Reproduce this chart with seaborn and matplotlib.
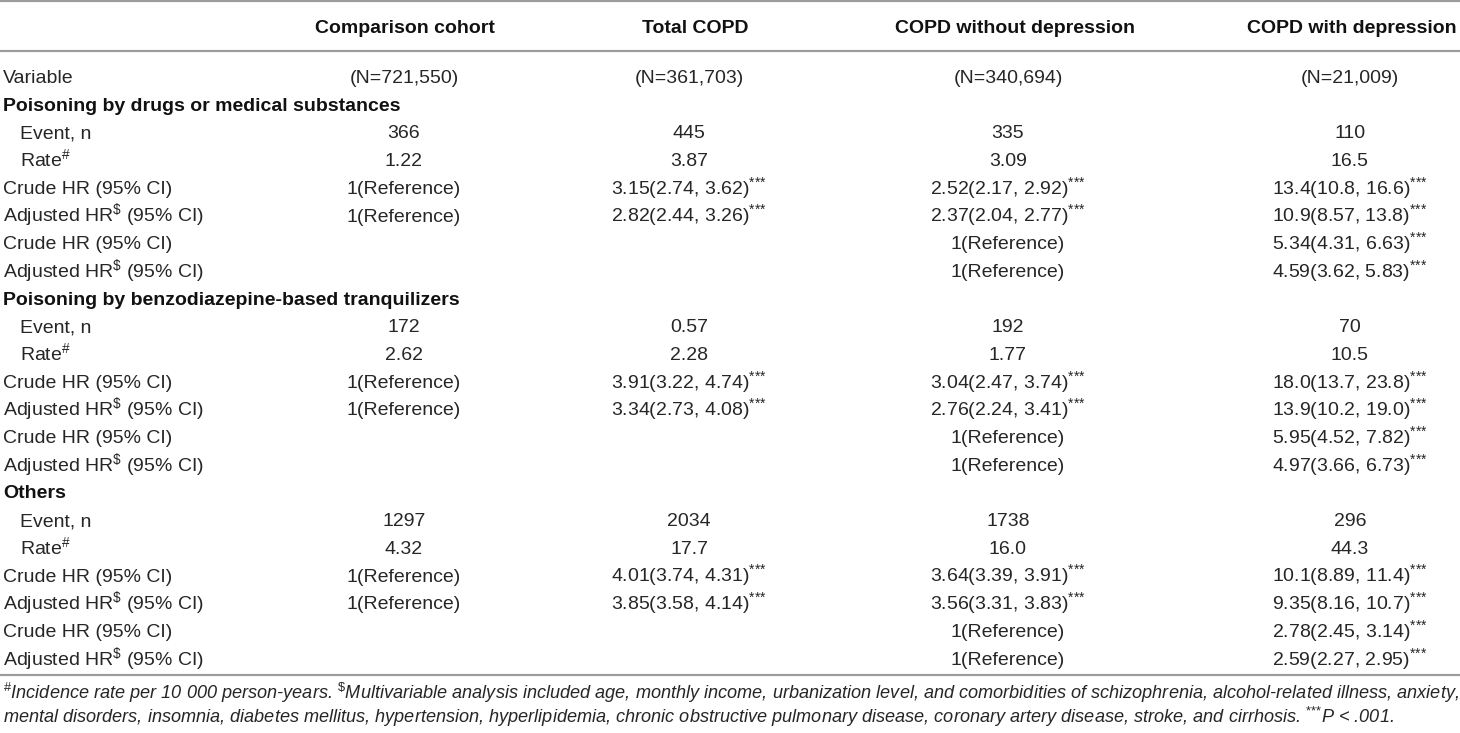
import matplotlib
matplotlib.use("Agg")
import matplotlib.pyplot as plt
import seaborn as sns

# ---------------- data ----------------
columns = ["Comparison cohort", "Total COPD", "COPD without depression", "COPD with depression"]
n_values = ["(N=721,550)", "(N=361,703)", "(N=340,694)", "(N=21,009)"]

sections = ["Poisoning by drugs or medical substances",
            "Poisoning by benzodiazepine-based tranquilizers",
            "Others"]

row_labels = ["Event, n", "Rate#", "Crude HR (95% CI)", "Adjusted HR$ (95% CI)",
              "Crude HR (95% CI)", "Adjusted HR$ (95% CI)"]
row_indent = [True, True, False, False, False, False]

drugs_event = ["366", "445", "335", "110"]
drugs_rate = ["1.22", "3.87", "3.09", "16.5"]
drugs_crude = ["1(Reference)", "3.15(2.74, 3.62)***", "2.52(2.17, 2.92)***", "13.4(10.8, 16.6)***"]
drugs_adj = ["1(Reference)", "2.82(2.44, 3.26)***", "2.37(2.04, 2.77)***", "10.9(8.57, 13.8)***"]
drugs_crude_dep = ["", "", "1(Reference)", "5.34(4.31, 6.63)***"]
drugs_adj_dep = ["", "", "1(Reference)", "4.59(3.62, 5.83)***"]

benzo_event = ["172", "0.57", "192", "70"]
benzo_rate = ["2.62", "2.28", "1.77", "10.5"]
benzo_crude = ["1(Reference)", "3.91(3.22, 4.74)***", "3.04(2.47, 3.74)***", "18.0(13.7, 23.8)***"]
benzo_adj = ["1(Reference)", "3.34(2.73, 4.08)***", "2.76(2.24, 3.41)***", "13.9(10.2, 19.0)***"]
benzo_crude_dep = ["", "", "1(Reference)", "5.95(4.52, 7.82)***"]
benzo_adj_dep = ["", "", "1(Reference)", "4.97(3.66, 6.73)***"]

others_event = ["1297", "2034", "1738", "296"]
others_rate = ["4.32", "17.7", "16.0", "44.3"]
others_crude = ["1(Reference)", "4.01(3.74, 4.31)***", "3.64(3.39, 3.91)***", "10.1(8.89, 11.4)***"]
others_adj = ["1(Reference)", "3.85(3.58, 4.14)***", "3.56(3.31, 3.83)***", "9.35(8.16, 10.7)***"]
others_crude_dep = ["", "", "1(Reference)", "2.78(2.45, 3.14)***"]
others_adj_dep = ["", "", "1(Reference)", "2.59(2.27, 2.95)***"]

section_rows = [
    [drugs_event, drugs_rate, drugs_crude, drugs_adj, drugs_crude_dep, drugs_adj_dep],
    [benzo_event, benzo_rate, benzo_crude, benzo_adj, benzo_crude_dep, benzo_adj_dep],
    [others_event, others_rate, others_crude, others_adj, others_crude_dep, others_adj_dep],
]

footnote_1 = ("#Incidence rate per 10 000 person-years. $Multivariable analysis included age, monthly income, "
              "urbanization level, and comorbidities of schizophrenia, alcohol-related illness, anxiety,")
footnote_2 = ("mental disorders, insomnia, diabetes mellitus, hypertension, hyperlipidemia, chronic obstructive "
              "pulmonary disease, coronary artery disease, stroke, and cirrhosis. ***P < .001.")


def markup(s):
    """Turn the #, $ and *** markers into mathtext superscripts."""
    s = s.replace("#", r"$^{\#}$")
    s = s.replace("HR$ ", r"HR$^{\$}$ ")
    s = s.replace(". $Multi", r". $^{\$}$Multi")
    s = s.replace("***", r"$^{{*}{*}{*}}$")
    return s


# ---------------- style ----------------
sns.set_theme(style="white")
FONT = "Liberation Sans"
plt.rcParams["font.family"] = [FONT, "DejaVu Sans"]
plt.rcParams["mathtext.fontset"] = "custom"
plt.rcParams["mathtext.rm"] = FONT
plt.rcParams["mathtext.it"] = FONT + ":italic"
plt.rcParams["mathtext.bf"] = FONT + ":bold"
plt.rcParams["mathtext.sf"] = FONT

TXT = "#262626"
HEAD = "#111111"
RULE = "#9c9c9c"
FS = 14

fig = plt.figure(figsize=(14.6, 7.33), dpi=100)
ax = fig.add_axes([0, 0, 1, 1])
ax.set_xlim(0, 1460)
ax.set_ylim(733, 0)
ax.set_axis_off()
sns.despine(ax=ax, left=True, bottom=True)

head_x = [405, 695, 1015, 1352]
col_x = [404, 689, 1008, 1350]
label_x = 3
indent_x = 20
header_y = 26
row0_y = 76
row_dy = 27.7
BASE = 7.0  # baseline offset from the row's visual centre


def put(x, y, s, ha="center", **kw):
    kw.setdefault("fontsize", FS)
    kw.setdefault("color", TXT)
    return ax.text(x, y + BASE, s, ha=ha, va="baseline", **kw)


# rules
for yy in (1.2, 50.5, 675):
    ax.axhline(yy, color=RULE, lw=1.6)

# header
for cx, name in zip(head_x, columns):
    put(cx, header_y, name, fontweight="bold", color=HEAD)

# N row
put(label_x, row0_y, "Variable", ha="left")
for cx, nv in zip(col_x, n_values):
    put(cx, row0_y, nv)

r = 1
for sec, rows in zip(sections, section_rows):
    y = row0_y + r * row_dy
    put(label_x, y, sec, ha="left", fontweight="bold", color=HEAD)
    r += 1
    for lab, ind, vals in zip(row_labels, row_indent, rows):
        y = row0_y + r * row_dy
        put(indent_x if ind else label_x, y, markup(lab), ha="left")
        for cx, v in zip(col_x, vals):
            if v:
                put(cx, y, markup(v))
        r += 1

# footnotes (fit first line to the table width)
f1 = ax.text(3, 693 + 6, markup(footnote_1), ha="left", va="baseline", fontsize=12,
             style="italic", color=TXT)
f2 = ax.text(3, 717 + 6, markup(footnote_2), ha="left", va="baseline", fontsize=12,
             style="italic", color=TXT)
fig.canvas.draw()
rend = fig.canvas.get_renderer()
w = f1.get_window_extent(rend).width
fs_fit = 12 * 1454.0 / w
f1.set_fontsize(fs_fit)
f2.set_fontsize(fs_fit)

fig.savefig("out.png", dpi=100, facecolor="white")
